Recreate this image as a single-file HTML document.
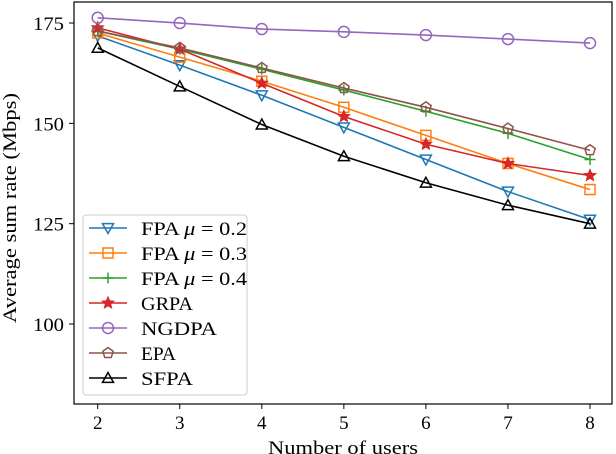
<!DOCTYPE html>
<html><head><meta charset="utf-8"><style>
body{margin:0;background:#fff}
svg{display:block;font-family:"Liberation Serif",serif}
</style></head><body>
<svg id="chart" width="616" height="454" viewBox="0 0 616 454">
<rect x="74" y="2" width="538" height="402" fill="#fff" stroke="#000" stroke-width="1.2"/>
<g id="ticks"></g>
<g id="series"></g>
<text x="16" y="208" transform="rotate(-90 16 208)" text-anchor="middle" font-size="19" textLength="230" lengthAdjust="spacingAndGlyphs">Average sum rate (Mbps)</text>
<text x="343" y="454" text-anchor="middle" font-size="19" textLength="150" lengthAdjust="spacingAndGlyphs">Number of users</text>
<g id="legend"></g>
</svg>
<script>
const users=[2,3,4,5,6,7,8];
const yTicks=[100,125,150,175];
const seriesNames=["FPA μ = 0.2","FPA μ = 0.3","FPA μ = 0.4","GRPA","NGDPA","EPA","SFPA"];
const fpa02=[171.8,164.5,157,149,141,133,126];
const fpa03=[172.5,166.5,160.5,154,147,140,133.5];
const fpa04=[173,168.5,163.5,158.3,153,147.5,141];
const grpa=[173.8,168.5,160,151.7,144.8,140,137];
const ngdpa=[176.3,175,173.5,172.8,172,171,170];
const epa=[173,168.8,163.8,158.8,154,148.7,143.3];
const sfpa=[168.8,159.2,149.7,141.8,135.2,129.6,125];
const allSeries=[fpa02,fpa03,fpa04,grpa,ngdpa,epa,sfpa];
const colors=["#1f77b4","#ff7f0e","#2ca02c","#d62728","#9467bd","#8c564b","#000000"];
const markers=["tri-down","square","plus","star","circle","pentagon","tri-up"];
const legendWidths=[106,106,106,52,76,35,52];
const NS="http://www.w3.org/2000/svg";
const xS=v=>97.7+(v-2)*(590-97.7)/6;
const yS=v=>324-(v-100)*4.013;
function mk(tag,attrs,parent){const e=document.createElementNS(NS,tag);for(const k in attrs)e.setAttribute(k,attrs[k]);parent.appendChild(e);return e;}
function marker(type,x,y,c,p){
  const r=5.5;let e;
  if(type==="circle")e=mk("circle",{cx:x,cy:y,r:r,fill:"none",stroke:c,"stroke-width":1.5},p);
  else if(type==="square")e=mk("rect",{x:x-r+0.5,y:y-r+0.5,width:2*r-1,height:2*r-1,fill:"none",stroke:c,"stroke-width":1.5},p);
  else if(type==="plus")e=mk("path",{d:`M${x-r} ${y}H${x+r}M${x} ${y-r}V${y+r}`,stroke:c,"stroke-width":1.5},p);
  else{
    let pts=[];
    if(type==="tri-down")pts=[[0,r],[-r,-r*0.8],[r,-r*0.8]];
    else if(type==="tri-up")pts=[[0,-r],[-r,r*0.8],[r,r*0.8]];
    else if(type==="pentagon")for(let i=0;i<5;i++){const a=-Math.PI/2+i*2*Math.PI/5;pts.push([r*Math.cos(a),r*Math.sin(a)]);}
    else if(type==="star")for(let i=0;i<10;i++){const a=-Math.PI/2+i*Math.PI/5;const rr=i%2?r*0.45:r;pts.push([rr*Math.cos(a),rr*Math.sin(a)]);}
    e=mk("polygon",{points:pts.map(q=>(x+q[0])+","+(y+q[1])).join(" "),fill:type==="star"?c:"none",stroke:c,"stroke-width":1.5,"stroke-linejoin":"miter"},p);
  }
  return e;
}
const tg=document.getElementById("ticks");
users.forEach(u=>{
  const l=mk("line",{x1:xS(u),x2:xS(u),y1:404,y2:409,stroke:"#000"},tg);
  
  
  const t=mk("text",{x:xS(u),y:429,"text-anchor":"middle","font-size":19},tg);t.textContent=u;
  
  
});
yTicks.forEach(v=>{
  const l=mk("line",{x1:69,x2:74,y1:yS(v),y2:yS(v),stroke:"#000"},tg);
  
  
  const t=mk("text",{x:64,y:yS(v)+7,"text-anchor":"end","font-size":19,textLength:31,lengthAdjust:"spacingAndGlyphs"},tg);t.textContent=v;
  
  
});
const sg=document.getElementById("series");
allSeries.forEach((vals,i)=>{
  const g=mk("g",{},sg);
  
  
  const pl=mk("polyline",{points:vals.map((v,j)=>xS(users[j])+","+yS(v)).join(" "),fill:"none",stroke:colors[i],"stroke-width":1.6},g);
  
  
  vals.forEach((v,j)=>{
    const m=marker(markers[i],xS(users[j]),yS(v),colors[i],g);
    
    
  });
});
const lg=document.getElementById("legend");
const box=mk("rect",{x:83,y:215,width:164,height:180,rx:3,fill:"#fff","fill-opacity":0.85,stroke:"#ccc"},lg);


seriesNames.forEach((n,i)=>{
  const y=228+i*25;
  const g=mk("g",{},lg);
  
  
  mk("line",{x1:89,x2:127,y1:y,y2:y,stroke:colors[i],"stroke-width":1.6},g);
  marker(markers[i],108,y,colors[i],g);
  const t=mk("text",{x:141,y:y+7,"font-size":19,textLength:legendWidths[i],lengthAdjust:"spacingAndGlyphs"},g);
  if(n.startsWith("FPA")){t.innerHTML='FPA <tspan font-style="italic">μ</tspan> = '+n.split("= ")[1];}
  else t.textContent=n;
});
</script>
</body></html>
